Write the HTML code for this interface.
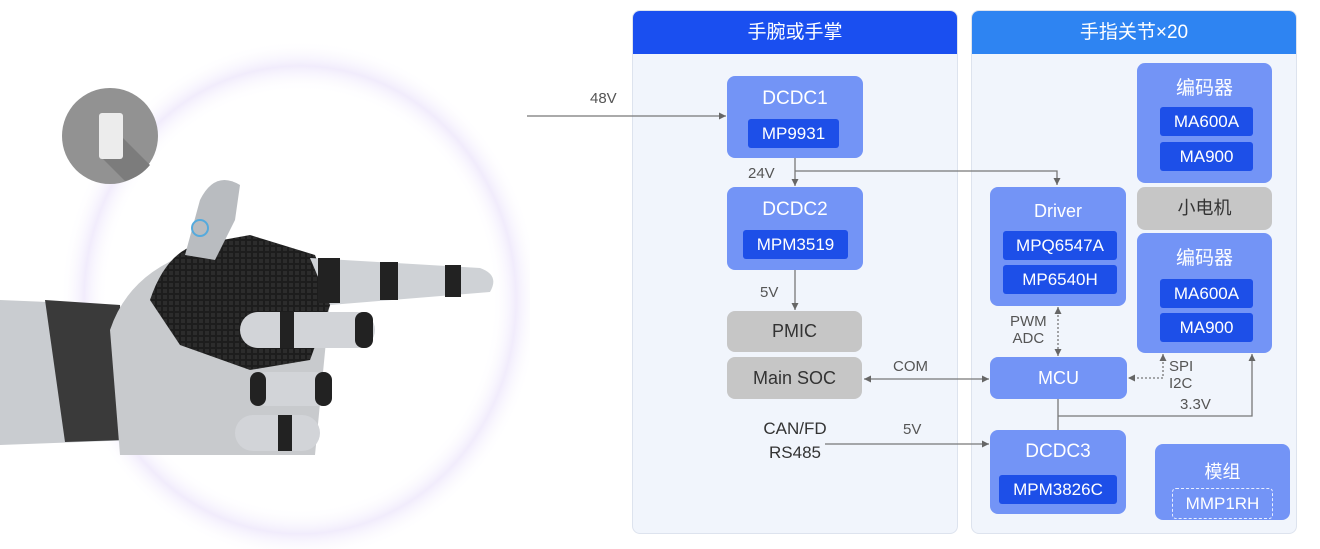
<!DOCTYPE html>
<html><head><meta charset="utf-8"><style>
body{margin:0;width:1320px;height:549px;background:#fff;position:relative;overflow:hidden;font-family:"Liberation Sans","Noto Sans CJK SC",sans-serif}
.a{position:absolute;box-sizing:border-box}
.panel{background:#f1f5fc;border:1px solid #dde3ee;border-radius:8px;overflow:hidden}
.hd{position:absolute;left:0;right:0;top:0;height:43px;color:#fff;font-size:19px;text-align:center;line-height:43px}
.blk{background:#7394f6;border-radius:8px;color:#fff;text-align:center;font-size:19px}
.chip{background:#1d4fe8;border-radius:3px;color:#fff;font-size:17px;text-align:center}
.gray{background:#c6c6c6;border-radius:8px;color:#333;text-align:center;font-size:18px}
.lb{position:absolute;color:#555;font-size:15px}
</style></head><body>
<svg class="a" style="left:0;top:0" width="530" height="549">
<defs>
<radialGradient id="g1" cx="50%" cy="50%" r="50%"><stop offset="0.8" stop-color="#fff" stop-opacity="0"/><stop offset="0.9" stop-color="#f1ecfc"/><stop offset="1" stop-color="#fff" stop-opacity="0"/></radialGradient>
<pattern id="mesh" width="6" height="6" patternUnits="userSpaceOnUse"><rect width="6" height="6" fill="#1d1d1d"/><rect x="1" y="1" width="4" height="4" fill="#2c2c2c"/></pattern>
</defs>
<ellipse cx="300" cy="300" rx="240" ry="260" fill="url(#g1)"/>
<circle cx="110" cy="136" r="48" fill="#929292"/>
<path d="M103 118 L150 165 A48 48 0 0 1 125 181 L100 156 Z" fill="#7c7c7c"/>
<rect x="99" y="113" width="24" height="46" rx="3" fill="#ececec"/>
<path d="M0 300 L120 305 L135 440 L0 445 Z" fill="#c9ccd0"/>
<path d="M45 300 L120 305 L125 440 L65 442 Z" fill="#3a3a3a"/>
<path d="M110 330 Q130 270 200 250 L300 258 L330 300 L315 455 L120 455 Z" fill="#c8cacd"/>
<path d="M150 300 Q165 255 195 245 L250 235 L315 255 L332 300 L310 360 L250 370 L180 345 Z" fill="url(#mesh)"/>
<path d="M310 258 L480 268 Q500 275 490 292 L330 305 Z" fill="#cfd2d6"/>
<rect x="318" y="258" width="22" height="45" fill="#222"/><rect x="380" y="262" width="18" height="38" fill="#222"/><rect x="445" y="265" width="16" height="32" fill="#222"/>
<rect x="240" y="312" width="135" height="36" rx="18" fill="#d2d4d8"/><rect x="280" y="312" width="14" height="36" fill="#222"/><rect x="355" y="312" width="18" height="36" rx="8" fill="#222"/>
<rect x="250" y="372" width="82" height="34" rx="17" fill="#d2d4d8"/><rect x="250" y="372" width="16" height="34" rx="8" fill="#222"/><rect x="315" y="372" width="17" height="34" rx="8" fill="#222"/>
<rect x="235" y="415" width="85" height="36" rx="18" fill="#d2d4d8"/><rect x="278" y="415" width="14" height="36" fill="#222"/>
<path d="M185 255 L200 200 Q215 170 240 185 L235 220 L215 260 Z" fill="#b9bcc0"/>
<circle cx="200" cy="228" r="8" fill="none" stroke="#5ad" stroke-width="2"/>
</svg>

<div class="a panel" style="left:632px;top:10px;width:326px;height:524px"><div class="hd" style="background:#1a4ff0">手腕或手掌</div></div>
<div class="a panel" style="left:971px;top:10px;width:326px;height:524px"><div class="hd" style="background:#2e84f2">手指关节×20</div></div>

<svg class="a" style="left:0;top:0" width="1320" height="549">
<defs>
<marker id="ar" markerWidth="8" markerHeight="8" refX="7" refY="4" orient="auto-start-reverse" markerUnits="userSpaceOnUse"><path d="M0 0.5 L7 4 L0 7.5Z" fill="#666"/></marker>
</defs>
<g stroke="#777" stroke-width="1.3" fill="none">
<line x1="527" y1="116" x2="726" y2="116" marker-end="url(#ar)"/>
<line x1="795" y1="158" x2="795" y2="186" marker-end="url(#ar)"/>
<polyline points="795,171 1057,171 1057,185" marker-end="url(#ar)"/>
<line x1="795" y1="270" x2="795" y2="310" marker-end="url(#ar)"/>
<line x1="864" y1="379" x2="989" y2="379" marker-start="url(#ar)" marker-end="url(#ar)"/>
<line x1="825" y1="444" x2="989" y2="444" marker-end="url(#ar)"/>
<line x1="1058" y1="399" x2="1058" y2="430"/>
<polyline points="1058,416 1252,416 1252,354" marker-end="url(#ar)"/>
<line x1="1058" y1="307" x2="1058" y2="356" stroke-dasharray="2,2" marker-start="url(#ar)" marker-end="url(#ar)"/>
<polyline points="1163,354 1163,378 1128,378" stroke-dasharray="2,2" marker-start="url(#ar)" marker-end="url(#ar)"/>
</g>
</svg>

<div class="lb" style="left:590px;top:90px">48V</div>
<div class="lb" style="left:748px;top:165px">24V</div>
<div class="lb" style="left:760px;top:284px">5V</div>
<div class="lb" style="left:893px;top:358px">COM</div>
<div class="lb" style="left:903px;top:421px">5V</div>
<div class="a" style="left:745px;top:417px;width:100px;text-align:center;color:#333;font-size:17px;line-height:24px">CAN/FD<br>RS485</div>
<div class="lb" style="left:1010px;top:313px;line-height:17px;text-align:center">PWM<br>ADC</div>
<div class="lb" style="left:1169px;top:358px;line-height:17px">SPI<br>I2C</div>
<div class="lb" style="left:1180px;top:396px">3.3V</div>

<div class="a blk" style="left:727px;top:76px;width:136px;height:82px;padding-top:12px">DCDC1
<div class="a chip" style="left:21px;top:43px;width:91px;height:29px;line-height:29px">MP9931</div></div>
<div class="a blk" style="left:727px;top:187px;width:136px;height:83px;padding-top:12px">DCDC2
<div class="a chip" style="left:16px;top:43px;width:105px;height:29px;line-height:29px">MPM3519</div></div>
<div class="a gray" style="left:727px;top:311px;width:135px;height:41px;line-height:41px">PMIC</div>
<div class="a gray" style="left:727px;top:357px;width:135px;height:42px;line-height:42px">Main SOC</div>

<div class="a blk" style="left:990px;top:187px;width:136px;height:119px;padding-top:14px;font-size:18px">Driver
<div class="a chip" style="left:13px;top:44px;width:114px;height:29px;line-height:29px">MPQ6547A</div>
<div class="a chip" style="left:13px;top:78px;width:114px;height:29px;line-height:29px">MP6540H</div></div>
<div class="a blk" style="left:990px;top:357px;width:137px;height:42px;line-height:42px;font-size:18px">MCU</div>
<div class="a blk" style="left:990px;top:430px;width:136px;height:84px;padding-top:11px">DCDC3
<div class="a chip" style="left:9px;top:45px;width:118px;height:29px;line-height:29px">MPM3826C</div></div>

<div class="a blk" style="left:1137px;top:63px;width:135px;height:120px;padding-top:10px">编码器
<div class="a chip" style="left:23px;top:44px;width:93px;height:29px;line-height:29px">MA600A</div>
<div class="a chip" style="left:23px;top:79px;width:93px;height:29px;line-height:29px">MA900</div></div>
<div class="a gray" style="left:1137px;top:187px;width:135px;height:43px;line-height:43px">小电机</div>
<div class="a blk" style="left:1137px;top:233px;width:135px;height:120px;padding-top:10px">编码器
<div class="a chip" style="left:23px;top:46px;width:93px;height:29px;line-height:29px">MA600A</div>
<div class="a chip" style="left:23px;top:80px;width:93px;height:29px;line-height:29px">MA900</div></div>
<div class="a blk" style="left:1155px;top:444px;width:135px;height:76px;padding-top:14px;font-size:18px">模组
<div class="a" style="left:17px;top:44px;width:101px;height:31px;line-height:29px;border:1px dashed #e8eeff;border-radius:4px;font-size:17px">MMP1RH</div></div>
</body></html>
